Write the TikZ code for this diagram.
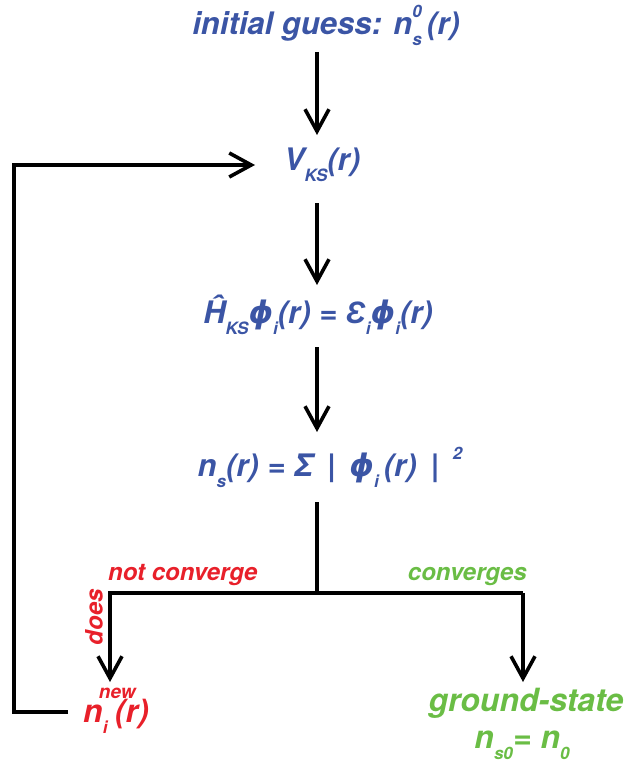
\documentclass[tikz,border=0pt]{standalone}
\usepackage{fontspec}
\setmainfont{TeX Gyre Heros}
\newfontfamily\gk{Liberation Sans}
\newfontfamily\gkd{DejaVu Sans}
\usetikzlibrary{arrows.meta}
\definecolor{kblue}{HTML}{3B55A5}
\definecolor{kred}{HTML}{E8202A}
\definecolor{kgreen}{HTML}{6ABD45}
\newcommand{\lo}[1]{\raisebox{-0.35em}{\fontsize{17}{18}\selectfont #1}}
\newcommand{\hi}[1]{\raisebox{0.55em}{\fontsize{17}{18}\selectfont #1}}
\newcommand{\lohi}[2]{\rlap{\lo{#1}}\hi{#2}}
\newcommand{\ph}{{\gkd ϕ}}
\newcommand{\ep}{{\gk Ɛ}}
\begin{document}
\begin{tikzpicture}[x=1pt,y=-1pt,
  lbl/.style={inner sep=0pt,font=\fontsize{31}{36}\selectfont\bfseries\itshape},
  big/.style={inner sep=0pt,font=\fontsize{32}{36}\selectfont\bfseries\itshape},
  small/.style={inner sep=0pt,font=\fontsize{24}{28}\selectfont\bfseries\itshape},
  flow/.style={line width=3.6pt,-{Straight Barb[length=22pt,width=24pt]}},
  plain/.style={line width=3.6pt}]
\useasboundingbox (0,0) rectangle (627,765);
\node[lbl,text=kblue] (init) at (326,25) {initial guess: n\lohi{s}{0}\,(r)};
\node[lbl,text=kblue] (vks) at (322,165) {V\lo{KS}(r)};
\node[lbl,text=kblue] (ham) at (318,315) {\^H\lo{KS}\ph\lo{i}(r) = \ep\lo{i}\ph\lo{i}(r)};
\node[lbl,text=kblue] (dens) at (330,467) {n\lo{s}(r) = Σ \,|\, \ph\lo{i}\,(r) \,|\, \hi{2}};
\node[big,text=kred,anchor=base west] (nnew) at (83,722) {n\rlap{\lo{i}}\kern-0.12em\rlap{\raisebox{0.75em}{\fontsize{19}{20}\selectfont new}}\kern0.5em(r)};
\node[big,text=kgreen] (gs) at (526,703) {ground-state};
\node[big,text=kgreen] (n0) at (522,745) {n\lo{s0}= n\lo{0}};
\coordinate (split) at (317,593);
\coordinate (sl) at (110,593);
\coordinate (sr) at (523,593);
\coordinate (fbl) at (14,712);
\coordinate (fbt) at (14,165);
\node[small,text=kred,anchor=south west] (notc) at (108,586) {not converge};
\node[small,text=kred,rotate=90] (does) at (94,617) {does};
\node[small,text=kgreen,anchor=south east] (conv) at (527,586) {converges};
\draw[flow] (317,52) -- (317,135);
\draw[flow] (317,203) -- (317,285);
\draw[flow] (317,347) -- (317,432);
\draw[plain] (317,502) -- (split);
\draw[plain] (sl) -- (sr);
\draw[flow] ([xshift=-1.8pt]sl) |- (sl) -- (110,682);
\draw[flow] (sr) -- (523,682);
\draw[flow] (68,712) -- (fbl) -- (fbt) -- (255,165);
\end{tikzpicture}
\end{document}
